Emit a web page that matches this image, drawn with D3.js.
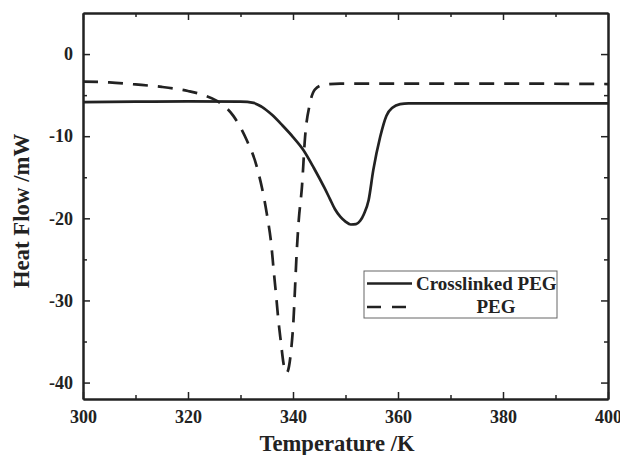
<!DOCTYPE html>
<html lang="en">
<head>
    <meta charset="UTF-8">
    <title>Heat Flow</title>
    <style>
        body { margin: 0; background: #fff; }
        svg text {
            font-family: "Liberation Serif", "Times New Roman", "DejaVu Serif", serif !important;
            font-weight: bold;
            fill: #222;
        }
        .axis path, .axis line { stroke: #222; }
    </style>
</head>
<body>
<div id="chart"></div>

<script src="https://d3js.org/d3.v7.min.js"></script>
<script>
    // crosslinked PEG (solid)
    var xlTemps = [300, 310, 320, 330, 332.5, 334, 336, 338, 340, 342, 344, 346, 347, 348, 349, 350, 351, 352, 352.8,
        353.5, 354.4, 355.3, 356.6, 357.8, 359, 360.4, 362, 370, 380, 390, 400];
    var xlFlow = [-5.85, -5.8, -5.75, -5.8, -5.95, -6.4, -7.4, -8.7, -10.1, -11.7, -13.9, -16.3, -17.6, -18.9, -19.8,
        -20.4, -20.75, -20.7, -20.3, -19.5, -17.8, -14.1, -10.1, -7.5, -6.5, -6.1, -6.0, -6.0, -6.0, -6.0, -6.0];

    // pure PEG (dashed)
    var pegTemps = [300, 305, 310, 315, 320, 323, 325.5, 328.6, 331.2, 333.1, 335, 335.9, 336.3, 336.8, 337.2, 337.7,
        338.2, 338.8, 339.6, 340.1, 340.4, 340.7, 341.1, 341.7, 342.3, 343.2, 344.2, 345.8, 349, 360, 380, 400];
    var pegFlow = [-3.35, -3.45, -3.7, -4.0, -4.5, -5.0, -5.7, -7.5, -10.5, -13.7, -19.4, -23.4, -26.2, -29.5, -32.3, -35.1,
        -37.7, -38.8, -36.3, -32.3, -28.3, -24.2, -20.2, -16.2, -10.1, -6.1, -4.3, -3.75, -3.6, -3.6, -3.6, -3.65];

    var xMajor = [300, 320, 340, 360, 380, 400];
    var xMinor = [310, 330, 350, 370, 390];
    var yMajor = [0, -10, -20, -30, -40];
    var yMinor = [-5, -15, -25, -35];

    var seriesNames = ["Crosslinked PEG", "PEG"];

    var serif = '"Liberation Serif", "Times New Roman", "DejaVu Serif", serif';

    var width = 620, height = 455;
    var margin = {top: 13, right: 12, bottom: 56, left: 83};

    var svg = d3.select("#chart").append("svg")
        .attr("width", width)
        .attr("height", height);

    var x = d3.scaleLinear().domain([300, 400]).range([margin.left, width - margin.right]);
    var y = d3.scaleLinear().domain([-42, 5]).range([height - margin.bottom, margin.top]);

    var fmt = function (d) { return String(d); };

    // bottom
    svg.append("g").attr("class", "axis")
        .attr("transform", "translate(0," + y.range()[0] + ")")
        .call(d3.axisBottom(x).tickValues(xMinor).tickSizeInner(-4).tickSizeOuter(0).tickFormat(""));
    svg.append("g").attr("class", "axis xb")
        .attr("transform", "translate(0," + y.range()[0] + ")")
        .call(d3.axisBottom(x).tickValues(xMajor).tickSizeInner(-7).tickSizeOuter(0).tickPadding(11).tickFormat(fmt));
    // top
    svg.append("g").attr("class", "axis")
        .attr("transform", "translate(0," + y.range()[1] + ")")
        .call(d3.axisTop(x).tickValues(xMinor).tickSizeInner(-4).tickSizeOuter(0).tickFormat(""));
    svg.append("g").attr("class", "axis")
        .attr("transform", "translate(0," + y.range()[1] + ")")
        .call(d3.axisTop(x).tickValues(xMajor).tickSizeInner(-7).tickSizeOuter(0).tickFormat(""));
    // left
    svg.append("g").attr("class", "axis")
        .attr("transform", "translate(" + x.range()[0] + ",0)")
        .call(d3.axisLeft(y).tickValues(yMinor).tickSizeInner(-4).tickSizeOuter(0).tickFormat(""));
    svg.append("g").attr("class", "axis yl")
        .attr("transform", "translate(" + x.range()[0] + ",0)")
        .call(d3.axisLeft(y).tickValues(yMajor).tickSizeInner(-7).tickSizeOuter(0).tickPadding(10).tickFormat(fmt));
    // right
    svg.append("g").attr("class", "axis")
        .attr("transform", "translate(" + x.range()[1] + ",0)")
        .call(d3.axisRight(y).tickValues(yMinor).tickSizeInner(-4).tickSizeOuter(0).tickFormat(""));
    svg.append("g").attr("class", "axis")
        .attr("transform", "translate(" + x.range()[1] + ",0)")
        .call(d3.axisRight(y).tickValues(yMajor).tickSizeInner(-7).tickSizeOuter(0).tickFormat(""));

    svg.selectAll(".axis").attr("font-family", serif);
    svg.selectAll(".axis path").attr("stroke-width", 2);
    svg.selectAll(".axis line").attr("stroke-width", 1.5);
    svg.selectAll(".xb text, .yl text")
        .style("font-size", "18px")
        .attr("fill", "#222");

    // axis titles
    svg.append("text")
        .attr("x", 337)
        .attr("y", 451)
        .attr("text-anchor", "middle")
        .style("font-size", "22.6px")
        .text("Temperature /K");

    svg.append("text")
        .attr("transform", "translate(29," + 211 + ") rotate(-90)")
        .attr("text-anchor", "middle")
        .style("font-size", "22.8px")
        .text("Heat Flow /mW");

    var line = d3.line()
        .x(function (d) { return x(d[0]); })
        .y(function (d) { return y(d[1]); })
        .curve(d3.curveMonotoneX);

    var pegData = d3.zip(pegTemps, pegFlow);
    var xlData = d3.zip(xlTemps, xlFlow);

    svg.append("path")
        .datum(pegData)
        .attr("d", line)
        .attr("fill", "none")
        .attr("stroke", "#222")
        .attr("stroke-width", 2.7)
        .attr("stroke-dasharray", "15,10");

    svg.append("path")
        .datum(xlData)
        .attr("d", line)
        .attr("fill", "none")
        .attr("stroke", "#222")
        .attr("stroke-width", 2.7);

    // legend
    var lg = svg.append("g").attr("transform", "translate(364,271)");
    lg.append("rect")
        .attr("width", 193)
        .attr("height", 47)
        .attr("fill", "#fff")
        .attr("stroke", "#666")
        .attr("stroke-width", 1);
    lg.append("line")
        .attr("x1", 3).attr("x2", 48).attr("y1", 12.5).attr("y2", 12.5)
        .attr("stroke", "#222").attr("stroke-width", 2.7);
    lg.append("line")
        .attr("x1", 3).attr("x2", 48).attr("y1", 36).attr("y2", 36)
        .attr("stroke", "#222").attr("stroke-width", 2.7)
        .attr("stroke-dasharray", "14,11");
    lg.append("text")
        .attr("x", 52).attr("y", 19)
        .style("font-size", "19px")
        .text(seriesNames[0]);
    lg.append("text")
        .attr("x", 132).attr("y", 42)
        .attr("text-anchor", "middle")
        .style("font-size", "19px")
        .text(seriesNames[1]);

    svg.selectAll("text").style("font-family", serif).style("font-weight", "bold");
</script>
</body>
</html>
